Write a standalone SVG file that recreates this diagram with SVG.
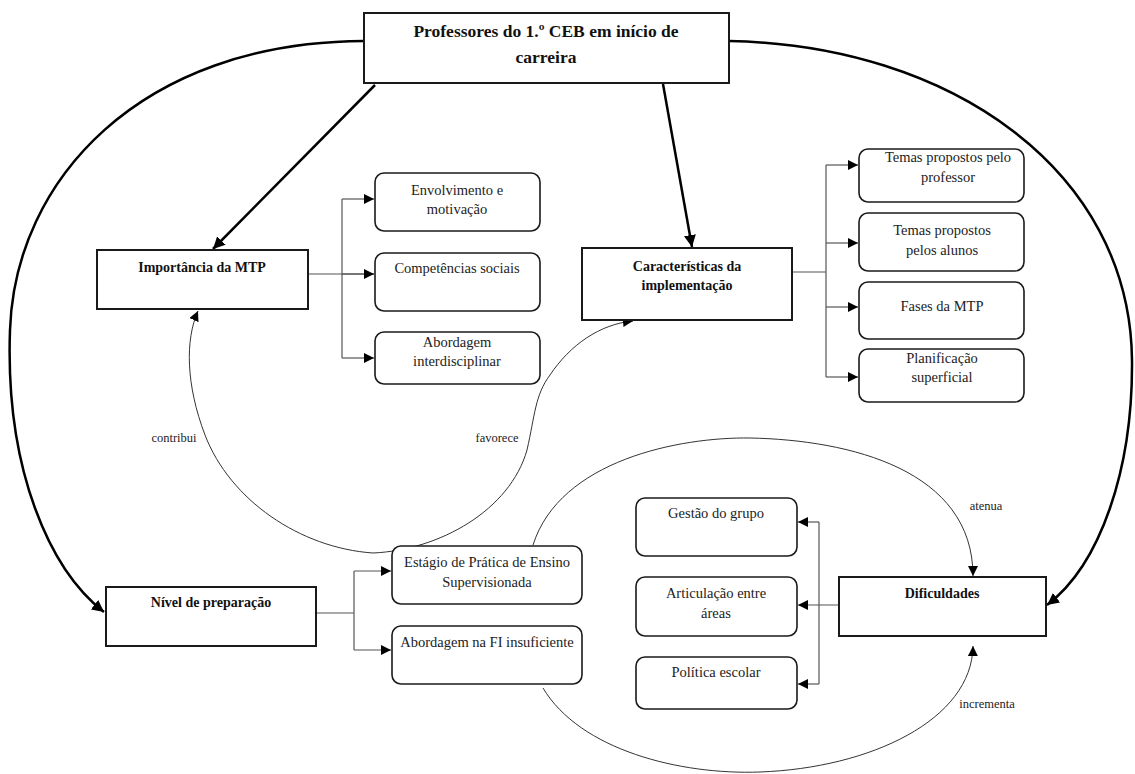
<svg xmlns="http://www.w3.org/2000/svg" width="1135" height="774" viewBox="0 0 1135 774">
<defs>
<marker id="ah" viewBox="0 0 10 10" refX="10" refY="5" markerWidth="10" markerHeight="10" markerUnits="userSpaceOnUse" orient="auto"><path d="M0,0 L10,5 L0,10 z" fill="#000"/></marker>
<marker id="ahb" viewBox="0 0 10 10" refX="10" refY="5" markerWidth="12" markerHeight="12" markerUnits="userSpaceOnUse" orient="auto"><path d="M0,0 L10,5 L0,10 z" fill="#000"/></marker>
<style>
.main{fill:#fff;stroke:#1a1a1a;stroke-width:2}
.sub{fill:#fff;stroke:#1a1a1a;stroke-width:1.6}
.t{font-family:"Liberation Serif",serif;font-size:14.5px;fill:#222;text-anchor:middle}
.b{font-family:"Liberation Serif",serif;font-size:14px;font-weight:bold;fill:#111;text-anchor:middle}
.title{font-family:"Liberation Serif",serif;font-size:17.5px;font-weight:bold;fill:#111;text-anchor:middle}
.lbl{font-family:"Liberation Serif",serif;font-size:12.5px;fill:#222;text-anchor:middle}
.thick{fill:none;stroke:#000;stroke-width:2.5}
.thin{fill:none;stroke:#333;stroke-width:1}
.br{fill:none;stroke:#555;stroke-width:1.2}
</style>
</defs>
<rect width="1135" height="774" fill="#fff"/>

<g id="connectors">
<path class="thick" d="M364,41 C140,42 15,180 10,330 C5,470 50,570 104,612" marker-end="url(#ahb)"/>
<path class="thick" d="M729,41 C950,45 1130,170 1132,360 C1133,470 1100,565 1047,605" marker-end="url(#ahb)"/>
<path class="thick" d="M375,85 L213,249" marker-end="url(#ahb)"/>
<path class="thick" d="M663,84 L692,247" marker-end="url(#ahb)"/>
<path class="br" d="M308,274 L374,274"/>
<path class="br" d="M342,199 L342,358"/>
<path class="br" d="M342,199 L374,199" marker-end="url(#ah)"/>
<path class="br" d="M342,274 L374,274" marker-end="url(#ah)"/>
<path class="br" d="M342,358 L374,358" marker-end="url(#ah)"/>
<path class="br" d="M792,272 L826,272"/>
<path class="br" d="M826,165 L826,377"/>
<path class="br" d="M826,165 L858,165" marker-end="url(#ah)"/>
<path class="br" d="M826,243 L858,243" marker-end="url(#ah)"/>
<path class="br" d="M826,307 L858,307" marker-end="url(#ah)"/>
<path class="br" d="M826,377 L858,377" marker-end="url(#ah)"/>
<path class="br" d="M316,613 L354,613"/>
<path class="br" d="M354,571 L354,650"/>
<path class="br" d="M354,571 L391,571" marker-end="url(#ah)"/>
<path class="br" d="M354,650 L391,650" marker-end="url(#ah)"/>
<path class="br" d="M839,605 L798,605" marker-end="url(#ah)"/>
<path class="br" d="M819,522 L819,684"/>
<path class="br" d="M819,522 L798,522" marker-end="url(#ah)"/>
<path class="br" d="M819,684 L798,684" marker-end="url(#ah)"/>
<path class="thin" d="M373,553 C300,548 230,500 205,435 C186,385 185,340 198,311" marker-end="url(#ah)"/>
<path class="thin" d="M373,553 C440,550 510,510 527,450 C535,415 535,395 550,375 C570,345 600,324 633,321" marker-end="url(#ah)"/>
<path class="thin" d="M533,545 C560,460 680,437 750,438 C850,440 973,470 973,576" marker-end="url(#ah)"/>
<path class="thin" d="M543,688 C580,750 680,775 760,772 C870,768 972,720 973,646" marker-end="url(#ah)"/>
<text class="lbl" x="174" y="442">contribui</text>
<text class="lbl" x="497" y="442">favorece</text>
<text class="lbl" x="986" y="510">atenua</text>
<text class="lbl" x="987" y="708">incrementa</text>
</g>

<g id="n-top">
<rect class="main" x="364" y="13" width="365" height="70"/>
<text class="title" x="546" y="37">Professores do 1.º CEB em início de</text>
<text class="title" x="546" y="63">carreira</text>
</g>

<g id="n-importancia">
<rect class="main" x="97" y="250" width="211" height="59"/>
<text class="b" x="202" y="272">Importância da MTP</text>
</g>
<g id="n-envolvimento">
<rect class="sub" x="375" y="173" width="165" height="58" rx="9"/>
<text class="t" x="457" y="195">Envolvimento e</text>
<text class="t" x="457" y="214">motivação</text>
</g>
<g id="n-competencias">
<rect class="sub" x="375" y="253" width="165" height="58" rx="9"/>
<text class="t" x="457" y="273">Competências sociais</text>
</g>
<g id="n-abordagem">
<rect class="sub" x="375" y="332" width="165" height="52" rx="9"/>
<text class="t" x="457" y="347">Abordagem</text>
<text class="t" x="457" y="366">interdisciplinar</text>
</g>

<g id="n-caracteristicas">
<rect class="main" x="582" y="248" width="210" height="72"/>
<text class="b" x="687" y="271">Características da</text>
<text class="b" x="687" y="290">implementação</text>
</g>
<g id="n-temas-prof">
<rect class="sub" x="859" y="149" width="165" height="53" rx="9"/>
<text class="t" x="948" y="162">Temas propostos pelo</text>
<text class="t" x="948" y="182">professor</text>
</g>
<g id="n-temas-alunos">
<rect class="sub" x="859" y="213" width="165" height="58" rx="9"/>
<text class="t" x="942" y="235">Temas propostos</text>
<text class="t" x="942" y="255">pelos alunos</text>
</g>
<g id="n-fases">
<rect class="sub" x="859" y="282" width="165" height="57" rx="9"/>
<text class="t" x="942" y="311">Fases da MTP</text>
</g>
<g id="n-planificacao">
<rect class="sub" x="859" y="349" width="165" height="53" rx="9"/>
<text class="t" x="942" y="363">Planificação</text>
<text class="t" x="942" y="382">superficial</text>
</g>

<g id="n-nivel">
<rect class="main" x="106" y="587" width="210" height="59"/>
<text class="b" x="211" y="607">Nível de preparação</text>
</g>
<g id="n-estagio">
<rect class="sub" x="392" y="546" width="190" height="58" rx="9"/>
<text class="t" x="487" y="567">Estágio de Prática de Ensino</text>
<text class="t" x="487" y="587">Supervisionada</text>
</g>
<g id="n-abordagem-fi">
<rect class="sub" x="392" y="626" width="190" height="58" rx="9"/>
<text class="t" x="487" y="647">Abordagem na FI insuficiente</text>
</g>

<g id="n-dificuldades">
<rect class="main" x="839" y="577" width="207" height="59"/>
<text class="b" x="942" y="598">Dificuldades</text>
</g>
<g id="n-gestao">
<rect class="sub" x="636" y="498" width="161" height="58" rx="9"/>
<text class="t" x="716" y="518">Gestão do grupo</text>
</g>
<g id="n-articulacao">
<rect class="sub" x="636" y="577" width="161" height="59" rx="9"/>
<text class="t" x="716" y="598">Articulação entre</text>
<text class="t" x="716" y="618">áreas</text>
</g>
<g id="n-politica">
<rect class="sub" x="636" y="657" width="161" height="52" rx="9"/>
<text class="t" x="716" y="677">Política escolar</text>
</g>
</svg>
